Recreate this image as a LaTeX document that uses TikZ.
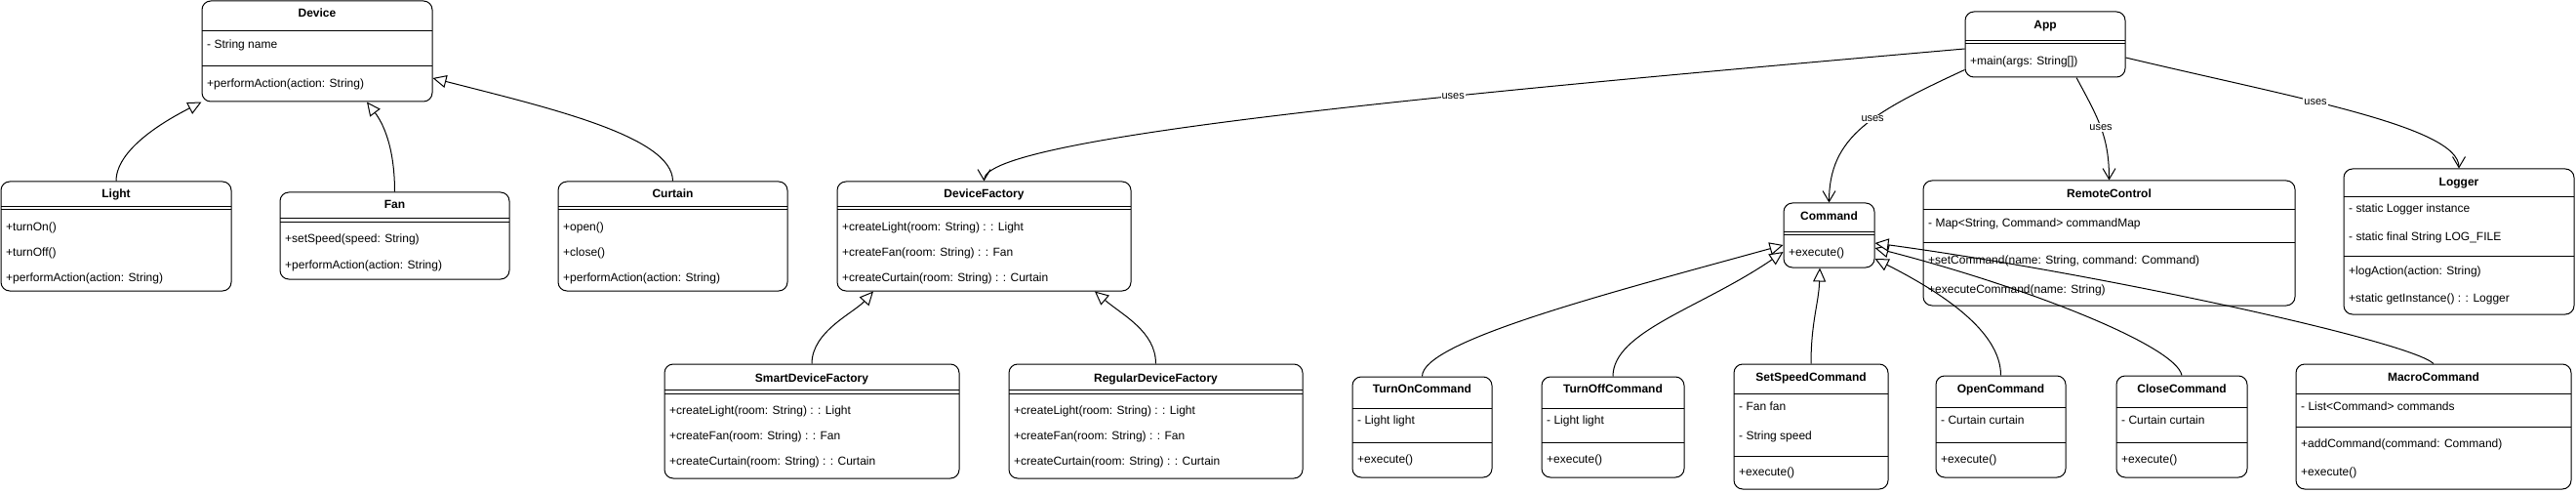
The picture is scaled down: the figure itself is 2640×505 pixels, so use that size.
\documentclass[tikz,border=0pt]{standalone}
\usepackage{fontspec}
\setmainfont{Liberation Sans}
\usetikzlibrary{arrows.meta,fit,calc}
\tikzset{
 clsbox/.style={draw, line width=1pt, rounded corners=9pt, fill=white, inner sep=0pt},
 clstitle/.style={font=\fontsize{12}{14}\selectfont\bfseries, inner sep=0pt, text height=8.6pt, text depth=2.5pt},
 clsitem/.style={font=\fontsize{12}{14}\selectfont, anchor=west, inner sep=0pt, text height=8.6pt, text depth=2.5pt},
 divline/.style={line width=1pt},
 gen/.style={line width=1pt, -{Triangle[length=14pt,width=13pt,fill=white]}},
 uses/.style={line width=1pt, -{Straight Barb[length=11pt,width=13pt]}},
 useslbl/.style={font=\fontsize{11}{13}\selectfont, fill=white, inner sep=1pt},
}
\newcommand\umlcls[7]{%
 \node[clsbox, fit={(#2,#3) (#4,#5)}] (#1) {};
 \node[clstitle] at ({(#2+#4)/2},#7) {#6};
}
\newcommand\umlitem[3]{\node[clsitem] at (#1,#2) {#3};}
\newcommand\umlhl[3]{\draw[divline] (#1,#3) -- (#2,#3);}
\begin{document}
\begin{tikzpicture}[x=1pt,y=-1pt]
\useasboundingbox (0,0) rectangle (2640,505);
% Device
\umlcls{device}{207}{1}{443}{104}{Device}{14}
\umlhl{207}{443}{32}\umlhl{207}{443}{68}
\umlitem{212}{46}{- String name}
\umlitem{212}{86}{+performAction(action: String)}
% Light
\umlcls{light}{1}{186}{237}{298}{Light}{199}
\umlhl{1}{237}{212}\umlhl{1}{237}{215}
\umlitem{6}{233}{+turnOn()}
\umlitem{6}{259}{+turnOff()}
\umlitem{6}{285}{+performAction(action: String)}
% Fan
\umlcls{fan}{287}{197}{522}{286}{Fan}{210}
\umlhl{287}{522}{224}\umlhl{287}{522}{228}
\umlitem{292}{245}{+setSpeed(speed: String)}
\umlitem{292}{272}{+performAction(action: String)}
% Curtain
\umlcls{curtain}{572}{186}{807}{298}{Curtain}{199}
\umlhl{572}{807}{212}\umlhl{572}{807}{215}
\umlitem{577}{233}{+open()}
\umlitem{577}{259}{+close()}
\umlitem{577}{285}{+performAction(action: String)}
% DeviceFactory
\umlcls{dfac}{858}{186}{1159}{298}{DeviceFactory}{199}
\umlhl{858}{1159}{212}\umlhl{858}{1159}{215}
\umlitem{863}{233}{+createLight(room: String) : : Light}
\umlitem{863}{259}{+createFan(room: String) : : Fan}
\umlitem{863}{285}{+createCurtain(room: String) : : Curtain}
% SmartDeviceFactory
\umlcls{smart}{681}{373}{983}{490}{SmartDeviceFactory}{388}
\umlhl{681}{983}{399}\umlhl{681}{983}{403}
\umlitem{686}{421}{+createLight(room: String) : : Light}
\umlitem{686}{447}{+createFan(room: String) : : Fan}
\umlitem{686}{473}{+createCurtain(room: String) : : Curtain}
% RegularDeviceFactory
\umlcls{regular}{1034}{373}{1335}{490}{RegularDeviceFactory}{388}
\umlhl{1034}{1335}{399}\umlhl{1034}{1335}{403}
\umlitem{1039}{421}{+createLight(room: String) : : Light}
\umlitem{1039}{447}{+createFan(room: String) : : Fan}
\umlitem{1039}{473}{+createCurtain(room: String) : : Curtain}
% App
\umlcls{app}{2014}{12}{2178}{79}{App}{26}
\umlhl{2014}{2178}{42}\umlhl{2014}{2178}{45}
\umlitem{2019}{63}{+main(args: String[])}
% Command
\umlcls{cmd}{1828}{208}{1921}{274}{Command}{222}
\umlhl{1828}{1921}{238}\umlhl{1828}{1921}{241}
\umlitem{1833}{259}{+execute()}
% RemoteControl
\umlcls{rc}{1971}{185}{2352}{313}{RemoteControl}{199}
\umlhl{1971}{2352}{215}\umlhl{1971}{2352}{249}
\umlitem{1976}{229}{- Map<String, Command> commandMap}
\umlitem{1976}{267}{+setCommand(name: String, command: Command)}
\umlitem{1976}{297}{+executeCommand(name: String)}
% Logger
\umlcls{logger}{2402}{173}{2638}{322}{Logger}{187}
\umlhl{2402}{2638}{202}\umlhl{2402}{2638}{262}
\umlitem{2407}{214}{- static Logger instance}
\umlitem{2407}{243}{- static final String LOG\_FILE}
\umlitem{2407}{278}{+logAction(action: String)}
\umlitem{2407}{306}{+static getInstance() : : Logger}
% TurnOnCommand
\umlcls{turnon}{1386}{386}{1529}{489}{TurnOnCommand}{399}
\umlhl{1386}{1529}{418}\umlhl{1386}{1529}{453}
\umlitem{1391}{431}{- Light light}
\umlitem{1391}{471}{+execute()}
% TurnOffCommand
\umlcls{turnoff}{1580}{386}{1726}{489}{TurnOffCommand}{399}
\umlhl{1580}{1726}{418}\umlhl{1580}{1726}{453}
\umlitem{1585}{431}{- Light light}
\umlitem{1585}{471}{+execute()}
% SetSpeedCommand
\umlcls{setspeed}{1777}{373}{1935}{501}{SetSpeedCommand}{387}
\umlhl{1777}{1935}{403}\umlhl{1777}{1935}{467}
\umlitem{1782}{417}{- Fan fan}
\umlitem{1782}{447}{- String speed}
\umlitem{1782}{484}{+execute()}
% OpenCommand
\umlcls{open}{1984}{385}{2117}{489}{OpenCommand}{399}
\umlhl{1984}{2117}{417}\umlhl{1984}{2117}{453}
\umlitem{1989}{431}{- Curtain curtain}
\umlitem{1989}{471}{+execute()}
% CloseCommand
\umlcls{close}{2169}{385}{2303}{489}{CloseCommand}{399}
\umlhl{2169}{2303}{417}\umlhl{2169}{2303}{453}
\umlitem{2174}{431}{- Curtain curtain}
\umlitem{2174}{471}{+execute()}
% MacroCommand
\umlcls{macro}{2353}{373}{2635}{501}{MacroCommand}{387}
\umlhl{2353}{2635}{403}\umlhl{2353}{2635}{437}
\umlitem{2358}{417}{- List<Command> commands}
\umlitem{2358}{455}{+addCommand(command: Command)}
\umlitem{2358}{484}{+execute()}
% generalizations
\draw[gen] (light.north) .. controls +(0,-36) and +(-27,14) .. (device.south west);
\draw[gen] (fan.north) .. controls +(0,-47) and +(16,21) .. ([xshift=51pt]device.south);
\draw[gen] (curtain.north) .. controls +(0,-46) and +(117,30) .. ([yshift=-27.5pt]device.east);
\draw[gen] (smart.north) .. controls +(0,-33) and +(-20,22) .. ([xshift=-113.5pt]dfac.south);
\draw[gen] (regular.north) .. controls +(0,-33) and +(28,24) .. ([xshift=113.5pt]dfac.south);
\draw[gen] (turnon.north) .. controls +(0,-36) and +(-178,49) .. ([yshift=-10pt]cmd.west);
\draw[gen] (turnoff.north) .. controls +(0,-46) and +(-83,57) .. ([yshift=-17pt]cmd.west);
\draw[gen] (setspeed.north) .. controls +(0,-43) and +(-1,36) .. ([xshift=-9.5pt]cmd.south);
\draw[gen] (open.north) .. controls +(0,-45) and +(69,35) .. ([yshift=-24pt]cmd.east);
\draw[gen] (close.north) .. controls +(-6,-30) and +(159,41) .. ([yshift=-13pt]cmd.east);
\draw[gen] (macro.north) .. controls +(-24,-23) and +(229,31) .. ([yshift=-8pt]cmd.east);
% uses
\draw[uses] ([yshift=-4.5pt]app.west) .. controls +(-514,45) and +(0,-46) .. (dfac.north) node[useslbl,pos=0.36] {uses};
\draw[uses] ([yshift=-26pt]app.west) .. controls +(-94,43.5) and +(0,-68) .. (cmd.north) node[useslbl,pos=0.43] {uses};
\draw[uses] ([xshift=32pt]app.south) .. controls +(22,41) and +(0,-45) .. (rc.north) node[useslbl,pos=0.5] {uses};
\draw[uses] ([yshift=-13.5pt]app.east) .. controls +(172,41) and +(0,-43) .. (logger.north) node[useslbl,pos=0.4] {uses};
\end{tikzpicture}
\end{document}
